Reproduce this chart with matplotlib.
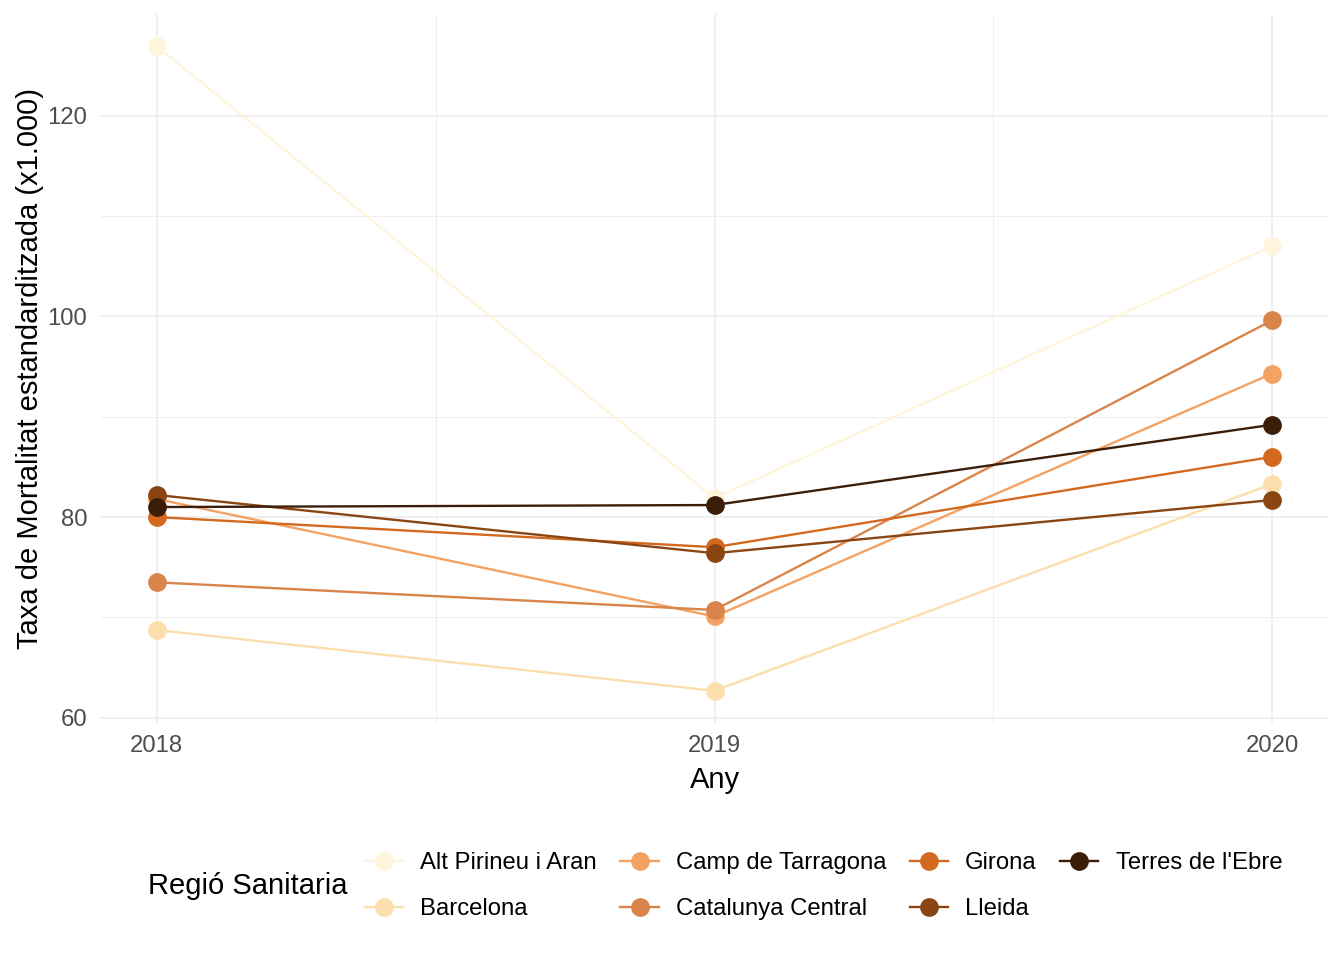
import matplotlib
matplotlib.use("Agg")
import matplotlib.pyplot as plt
from matplotlib.lines import Line2D
import numpy as np

plt.rcParams["font.family"] = ["Liberation Sans", "DejaVu Sans"]

anys = [2018, 2019, 2020]
regions = ["Alt Pirineu i Aran", "Barcelona", "Camp de Tarragona",
           "Catalunya Central", "Girona", "Lleida", "Terres de l'Ebre"]
alt_pirineu = [126.9, 81.9, 107.0]
barcelona = [68.75, 62.7, 83.3]
camp_tarragona = [81.8, 70.1, 94.3]
catalunya_central = [73.5, 70.75, 99.6]
girona = [80.0, 77.0, 86.0]
lleida = [82.2, 76.4, 81.7]
terres_ebre = [81.0, 81.2, 89.2]
colors = ["#FFF5DC", "#FDDEAD", "#F4A261", "#D9844A", "#D2691E", "#8B4513", "#3B1E0A"]

series = [alt_pirineu, barcelona, camp_tarragona, catalunya_central,
          girona, lleida, terres_ebre]

fig = plt.figure(figsize=(13.44, 9.6), dpi=100)
ax = fig.add_axes([101 / 1344, (960 - 723) / 960, 1227 / 1344, (723 - 14) / 960])

for vals, col in zip(series, colors):
    ax.plot(anys, vals, color=col, lw=1.7, zorder=3)
for vals, col in zip(series, colors):
    ax.plot(anys, vals, ls="none", marker="o", ms=13.5, color=col, mec="none", zorder=4)

# ggplot-style 5% expansion
allv = np.concatenate([np.array(s) for s in series])
yr = allv.max() - allv.min()
ax.set_ylim(allv.min() - 0.05 * yr, allv.max() + 0.05 * yr)
xr = anys[-1] - anys[0]
ax.set_xlim(anys[0] - 0.05 * xr, anys[-1] + 0.05 * xr)

ax.set_xticks(anys)
ax.set_xticks([2018.5, 2019.5], minor=True)
ax.set_yticks([60, 80, 100, 120])
ax.set_yticks([70, 90, 110], minor=True)
ax.grid(which="major", color="#EBEBEB", lw=1.1, zorder=0)
ax.grid(which="minor", color="#EBEBEB", lw=0.6, zorder=0)
ax.tick_params(which="both", length=0, labelsize=17.2, labelcolor="#4D4D4D")
ax.tick_params(axis="y", pad=10)
ax.tick_params(axis="x", pad=9)
for s in ax.spines.values():
    s.set_visible(False)

ax.set_xlabel("Any", fontsize=21, labelpad=6)
ax.set_ylabel("Taxa de Mortalitat estandarditzada (x1.000)", fontsize=21, labelpad=2)

handles = [Line2D([], [], color=c, lw=1.7, marker="o", ms=13.5, mec="none") for c in colors]
fig.text(148 / 1344, 1 - 886 / 960, "Regió Sanitaria", fontsize=21, va="center", ha="left")
fig.legend(handles, regions, ncol=4, loc="center left",
           bbox_to_anchor=(353 / 1344, 1 - 886 / 960), frameon=False,
           fontsize=17.2, handlelength=1.6, handletextpad=0.72,
           columnspacing=0.98, labelspacing=1.0, borderpad=0)

fig.savefig("out.png", dpi=100)
